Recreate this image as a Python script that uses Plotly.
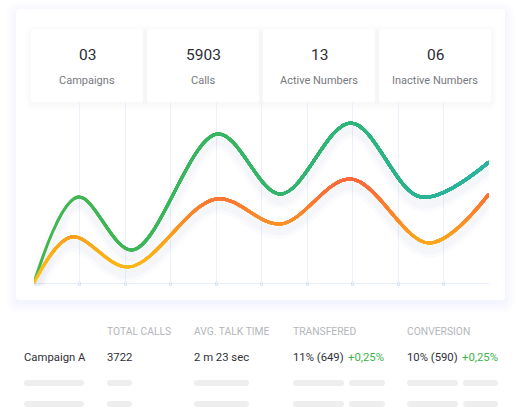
import plotly.graph_objects as go

W, H = 522, 420

# ---------------- data ----------------
stat_values = ["03", "5903", "13", "06"]
stat_labels = ["Campaigns", "Calls", "Active Numbers", "Inactive Numbers"]

green_x = [0, 0.97, 2.16, 4.03, 5.42, 6.96, 8.5, 10]
green_y = [0, 86, 33, 149, 89, 160, 86, 121]
orange_x = [0, 0.82, 2.09, 4.0, 5.42, 6.96, 8.68, 10]
orange_y = [0, 46, 16, 84, 59, 104, 40, 89]

table_headers = ["TOTAL CALLS", "AVG. TALK TIME", "TRANSFERED", "CONVERSION"]
row_name = "Campaign A"
row_values = ["3722", "2 m 23 sec", "11% (649)", "10% (590)"]
row_deltas = ["", "", "+0,25%", "+0,25%"]

# ---------------- helpers ----------------
def fx(px):
    return px / W

def fy(py):
    return 1 - py / H

def rrect_path(x0, y0, x1, y1, r):
    def P(x, y):
        return f"{fx(x):.6f},{fy(y):.6f}"
    return (f"M{P(x0 + r, y0)} L{P(x1 - r, y0)} Q{P(x1, y0)} {P(x1, y0 + r)} "
            f"L{P(x1, y1 - r)} Q{P(x1, y1)} {P(x1 - r, y1)} L{P(x0 + r, y1)} "
            f"Q{P(x0, y1)} {P(x0, y1 - r)} L{P(x0, y0 + r)} Q{P(x0, y0)} {P(x0 + r, y0)} Z")

def lerp_color(stops, t):
    for (t0, c0), (t1, c1) in zip(stops[:-1], stops[1:]):
        if t <= t1:
            f = 0 if t1 == t0 else (t - t0) / (t1 - t0)
            f = max(0, min(1, f))
            c = [round(a + (b - a) * f) for a, b in zip(c0, c1)]
            return f"rgb({c[0]},{c[1]},{c[2]})"
    c = stops[-1][1]
    return f"rgb({c[0]},{c[1]},{c[2]})"

green_stops = [(0, (66, 183, 76)), (4, (55, 181, 98)), (7, (46, 180, 126)),
               (8.5, (42, 179, 150)), (10, (41, 179, 165))]
orange_stops = [(0, (252, 195, 20)), (40, (251, 166, 28)), (65, (251, 136, 44)),
                (90, (251, 112, 56)), (112, (252, 98, 66))]

PX0, PX1 = 34, 489
PY_BOT, PY_TOP = 286, 102
Y_MIN, Y_MAX = -3, 181   # 1 unit per pixel, 0 at pixel 283

fig = go.Figure()
layout_axes = {}

# ---------------- shapes (cards) ----------------
shapes = []
for k in range(10, 0, -1):
    shapes.append(dict(type="path", xref="paper", yref="paper", layer="below",
                       path=rrect_path(16 - k, 9 - k + 3, 505 + k, 300 + k + 3, 4 + k),
                       fillcolor="rgba(70,120,200,0.0065)", line=dict(width=0)))
shapes.append(dict(type="path", xref="paper", yref="paper", layer="below",
                   path=rrect_path(16, 9, 505, 300, 4), fillcolor="white",
                   line=dict(width=0)))
box_x = [(31, 143), (147, 259), (263, 375), (379, 491)]
for (bx0, bx1) in box_x:
    for k in range(6, 0, -1):
        shapes.append(dict(type="path", xref="paper", yref="paper", layer="below",
                           path=rrect_path(bx0 - k, 29 - k + 2, bx1 + k, 102 + k + 2, 3 + k),
                           fillcolor="rgba(70,110,180,0.008)", line=dict(width=0)))
for (bx0, bx1) in box_x:
    shapes.append(dict(type="path", xref="paper", yref="paper", layer="below",
                       path=rrect_path(bx0, 29, bx1, 102, 3), fillcolor="white",
                       line=dict(width=0)))

bar_spans = [(24, 84), (107, 132), (194, 249), (293, 344), (349, 385), (407, 458), (463, 498)]
for yc in (383, 404):
    for (a, b) in bar_spans:
        shapes.append(dict(type="path", xref="paper", yref="paper", layer="below",
                           path=rrect_path(a, yc - 3, b, yc + 3, 3),
                           fillcolor="#eeeeef", line=dict(width=0)))

# ---------------- axes ----------------
XDOM = [fx(PX0), fx(PX1)]
YDOM = [fy(PY_BOT), fy(PY_TOP)]
HID = dict(visible=False, showgrid=False, zeroline=False, fixedrange=True)

# grid axes (subplot xy, drawn first)
layout_axes["xaxis"] = dict(domain=XDOM, range=[0, 10], dtick=1, tick0=0,
                            showgrid=True, gridcolor="#eaf1fa", gridwidth=1,
                            zeroline=False, showline=False, showticklabels=False,
                            ticks="inside", ticklen=4, tickwidth=3, tickcolor="#dbe7f5",
                            fixedrange=True)
layout_axes["yaxis"] = dict(domain=YDOM, range=[Y_MIN, Y_MAX],
                            showgrid=False, zeroline=True, zerolinecolor="#e6eef9",
                            zerolinewidth=1, showticklabels=False, fixedrange=True)
fig.add_trace(go.Scatter(x=[], y=[], mode="lines", xaxis="x", yaxis="y",
                         hoverinfo="skip", showlegend=False))

# shadow axis (same domain, shifted range so the curve sits a few px lower) -> subplot xy99
SH = 7
layout_axes["yaxis99"] = dict(domain=YDOM, range=[Y_MIN + SH, Y_MAX + SH], anchor="x", **HID)
for xs, ys in ((green_x, green_y), (orange_x, orange_y)):
    for w, a in ((16, 0.022), (9, 0.03)):
        fig.add_trace(go.Scatter(x=xs, y=ys, mode="lines", xaxis="x", yaxis="y99",
                                 line=dict(shape="spline", width=w,
                                           color=f"rgba(70,90,150,{a})"),
                                 hoverinfo="skip", showlegend=False))

# ---------------- green curve: horizontal gradient via clipped x-axes ----------------
layout_axes["yaxis98"] = dict(domain=YDOM, range=[Y_MIN, Y_MAX], anchor="x2", **HID)
N = 22
for i in range(0, N):
    p = PX0 + round((PX1 - PX0) * i / N)
    r0 = (p - PX0) / (PX1 - PX0) * 10
    layout_axes[f"xaxis{i + 2}"] = dict(domain=[fx(p), fx(PX1)], range=[r0, 10],
                                        anchor="y98", **HID)
    col = lerp_color(green_stops, 10 * (i + 0.5) / N)
    fig.add_trace(go.Scatter(x=green_x, y=green_y, mode="lines", xaxis=f"x{i + 2}", yaxis="y98",
                             line=dict(shape="spline", width=3, color=col),
                             hoverinfo="skip", showlegend=False))

# ---------------- orange curve: vertical gradient via clipped y-axes ----------------
layout_axes["xaxis30"] = dict(domain=XDOM, range=[0, 10], anchor="y2", **HID)
STEP = 5
k = 0
v = 0
while v < 115:
    lo = Y_MIN if k == 0 else v
    py = 283 - lo
    layout_axes[f"yaxis{k + 2}"] = dict(domain=[fy(py), fy(PY_TOP)], range=[lo, Y_MAX],
                                        anchor="x30", **HID)
    col = lerp_color(orange_stops, v + STEP / 2 if k else 0)
    fig.add_trace(go.Scatter(x=orange_x, y=orange_y, mode="lines", xaxis="x30", yaxis=f"y{k + 2}",
                             line=dict(shape="spline", width=3, color=col),
                             hoverinfo="skip", showlegend=False))
    v += STEP
    k += 1

# ---------------- annotations ----------------
ann = []
FONT = "Roboto"
centers = [(a + b) / 2 for a, b in box_x]
for cx, val, lab in zip(centers, stat_values, stat_labels):
    ann.append(dict(x=fx(cx), y=fy(55), xref="paper", yref="paper", text=val,
                    showarrow=False, xanchor="center", yanchor="middle",
                    font=dict(family=FONT, size=15.5, color="#2b2d36")))
    ann.append(dict(x=fx(cx), y=fy(80), xref="paper", yref="paper", text=lab,
                    showarrow=False, xanchor="center", yanchor="middle",
                    font=dict(family=FONT, size=11, color="#777a80")))

col_x = [107, 194, 293, 407]
delta_x = [None, None, 348, 462]
DX = -2
for cx, h in zip(col_x, table_headers):
    ann.append(dict(x=fx(cx + DX), y=fy(331), xref="paper", yref="paper", text=h,
                    showarrow=False, xanchor="left", yanchor="middle",
                    font=dict(family=FONT, size=10.3, color="#b4b6ba")))
ann.append(dict(x=fx(24 + DX), y=fy(357), xref="paper", yref="paper", text=row_name,
                showarrow=False, xanchor="left", yanchor="middle",
                font=dict(family=FONT, size=11.3, color="#2f3038")))
for cx, val in zip(col_x, row_values):
    ann.append(dict(x=fx(cx + DX), y=fy(357), xref="paper", yref="paper", text=val,
                    showarrow=False, xanchor="left", yanchor="middle",
                    font=dict(family=FONT, size=11.3, color="#2f3038")))
for dx, d in zip(delta_x, row_deltas):
    if dx is None or not d:
        continue
    ann.append(dict(x=fx(dx + DX), y=fy(357), xref="paper", yref="paper", text=d,
                    showarrow=False, xanchor="left", yanchor="middle",
                    font=dict(family=FONT, size=11.3, color="#3cb44b")))

fig.update_layout(width=W, height=H, autosize=False,
                  margin=dict(l=0, r=0, t=0, b=0, pad=0),
                  paper_bgcolor="white", plot_bgcolor="rgba(0,0,0,0)",
                  showlegend=False, shapes=shapes, annotations=ann,
                  hovermode=False, **layout_axes)

fig.write_html("out.html", config={"displayModeBar": False},
               post_script="document.body.style.margin='0px';document.body.style.overflow='hidden';")
